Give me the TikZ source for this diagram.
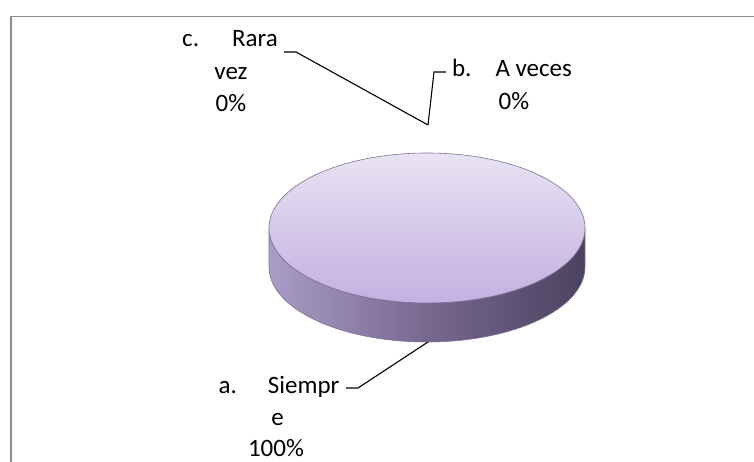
\documentclass[tikz,border=0pt]{standalone}
\usepackage{fontspec}
\setmainfont{Carlito}
\begin{document}
\begin{tikzpicture}[x=1pt,y=1pt,
  lbl/.style={inner sep=0pt, anchor=base, font=\fontsize{25}{32}\selectfont},
  leader/.style={draw=black, line width=1.1pt},
  frameline/.style={draw=black!45, line width=1.6pt}]
\definecolor{topA}{HTML}{E8E3F3}
\definecolor{topB}{HTML}{C4B0E2}
\definecolor{sideL}{HTML}{A99CC6}
\definecolor{sideM}{HTML}{776890}
\definecolor{sideR}{HTML}{4C4260}
\definecolor{rim}{HTML}{7C7196}
\useasboundingbox (0,0) rectangle (754,462);

% chart frame (top and left edges)
\draw[frameline] (11,0) -- (11,445.5) -- (754,445.5);

% pie: side wall
\shade[left color=sideL, right color=sideR, middle color=sideM, draw=rim, line width=0.6pt]
  (269,234) -- (269,195) arc (180:360:158 and 75) -- (585,234) arc (360:180:158 and 75) -- cycle;
% pie: top face
\shade[top color=topA, bottom color=topB, draw=rim, line width=0.6pt]
  (427,234) ellipse (158 and 75);

% leader points
\coordinate (pieTop) at (428,337);
\coordinate (pieBot) at (428,120);
\coordinate (cK) at (296,410);
\coordinate (cT) at (284,410);
\coordinate (bK) at (434,390);
\coordinate (bT) at (446,390);
\coordinate (aK) at (358,74);
\coordinate (aT) at (346,74);

% labels
\node[lbl] (c1) at (230,415) {c.\hspace{33pt}Rara};
\node[lbl] (c2) at (231,382) {vez};
\node[lbl] (c3) at (231,350) {0\%};
\node[lbl] (b1) at (512,385) {b.\hspace{24pt}A veces};
\node[lbl] (b2) at (514,352) {0\%};
\node[lbl] (a1) at (279,68) {a.\hspace{31pt}Siempr};
\node[lbl] (a2) at (277.5,36) {e};
\node[lbl] (a3) at (276,5) {100\%};

% leader lines
\draw[leader] (cT) -- (cK) -- (pieTop);
\draw[leader] (pieTop) -- (bK) -- (bT);
\draw[leader] (aT) -- (aK) -- (pieBot);
\end{tikzpicture}
\end{document}
